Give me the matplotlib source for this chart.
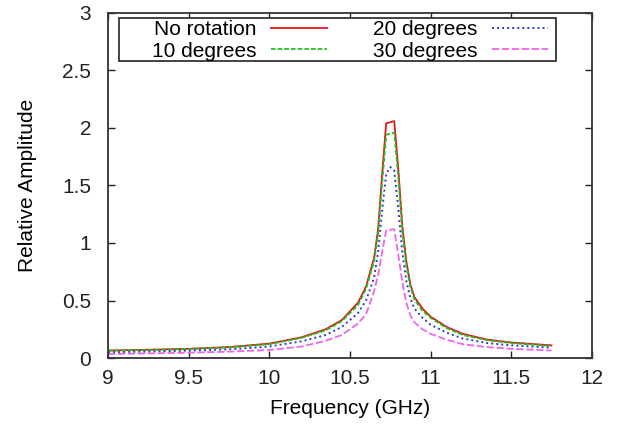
import numpy as np
import matplotlib
matplotlib.use("Agg")
import matplotlib.pyplot as plt
import matplotlib.ticker as mticker
from matplotlib.patches import Rectangle

# data (frequency in GHz, relative amplitude)
freq = [9.0, 9.25, 9.5, 9.75, 10.0, 10.2, 10.35, 10.45, 10.55, 10.6, 10.65,
        10.675, 10.7, 10.725, 10.75, 10.775, 10.8, 10.825, 10.85, 10.875,
        10.9, 10.95, 11.0, 11.1, 11.2, 11.35, 11.5, 11.75]
no_rotation = [0.065, 0.072, 0.080, 0.095, 0.125, 0.18, 0.25, 0.33, 0.48, 0.62, 0.87,
               1.12, 1.60, 2.04, 2.05, 2.06, 1.65, 1.15, 0.84, 0.64,
               0.53, 0.43, 0.36, 0.27, 0.21, 0.16, 0.135, 0.11]
deg10 = [0.065, 0.070, 0.078, 0.092, 0.12, 0.175, 0.24, 0.32, 0.46, 0.60, 0.84,
         1.08, 1.52, 1.94, 1.95, 1.96, 1.58, 1.10, 0.80, 0.62,
         0.51, 0.41, 0.35, 0.26, 0.20, 0.155, 0.13, 0.105]
deg20 = [0.050, 0.056, 0.064, 0.075, 0.10, 0.145, 0.20, 0.27, 0.39, 0.50, 0.70,
         0.92, 1.28, 1.60, 1.66, 1.63, 1.30, 0.92, 0.67, 0.52,
         0.43, 0.35, 0.29, 0.22, 0.17, 0.13, 0.11, 0.09]
deg30 = [0.035, 0.040, 0.046, 0.055, 0.07, 0.10, 0.15, 0.20, 0.30, 0.38, 0.58,
         0.72, 0.92, 1.11, 1.115, 1.12, 0.90, 0.66, 0.48, 0.37,
         0.31, 0.25, 0.21, 0.16, 0.12, 0.095, 0.08, 0.065]

labels = ["No rotation", "10 degrees", "20 degrees", "30 degrees"]
xticks = [9, 9.5, 10, 10.5, 11, 11.5, 12]
yticks = [0, 0.5, 1, 1.5, 2, 2.5, 3]

plt.rcParams.update({
    "font.family": ["Liberation Sans", "DejaVu Sans"],
    "font.size": 15,
})

fig = plt.figure(figsize=(6.19, 4.26), dpi=100)
ax = fig.add_axes([0.1745, 0.1596, 0.7815, 0.81])

ax.plot(freq, no_rotation, color="#e8141c", lw=1.3, label=labels[0])
ax.plot(freq, deg10, color="#22c01e", lw=1.3, dashes=(2.5, 1.2), label=labels[1])
ax.plot(freq, deg20, color="#2b3bd0", lw=1.4, dashes=(1, 1.6), label=labels[2])
ax.plot(freq, deg30, color="#ee66ea", lw=1.3, dashes=(4, 1.5), label=labels[3])

ax.set_xlim(9, 12)
ax.set_ylim(0, 3)
ax.set_xticks(xticks)
ax.set_yticks(yticks)
ax.xaxis.set_major_formatter(mticker.FormatStrFormatter("%g"))
ax.yaxis.set_major_formatter(mticker.FormatStrFormatter("%g"))
ax.tick_params(direction="in", length=5, width=1, top=True, right=True,
               labelsize=15, colors="#222222")
ax.tick_params(axis="x", pad=8)
ax.tick_params(axis="y", pad=12)
for s in ax.spines.values():
    s.set_linewidth(1.3)
    s.set_color("#333333")

ax.set_xlabel("Frequency (GHz)", fontsize=15, labelpad=8)
ax.set_ylabel("Relative Amplitude", fontsize=15, labelpad=18)

# legend box drawn like gnuplot's key frame
ax.add_patch(Rectangle((0.0227, 0.861), 0.903, 0.1245, transform=ax.transAxes,
                       fill=True, facecolor="white", edgecolor="#222222",
                       linewidth=1.2, zorder=4))
leg = ax.legend(ncol=2, loc="upper left", bbox_to_anchor=(0.085, 0.861, 0.83, 0.1245),
                mode="expand", markerfirst=False, handlelength=2.7, handletextpad=0.7,
                borderaxespad=0, borderpad=0.12, labelspacing=0.1, columnspacing=2.0,
                frameon=False, fontsize=15)
leg.set_zorder(5)

fig.savefig("out.png", dpi=100)
